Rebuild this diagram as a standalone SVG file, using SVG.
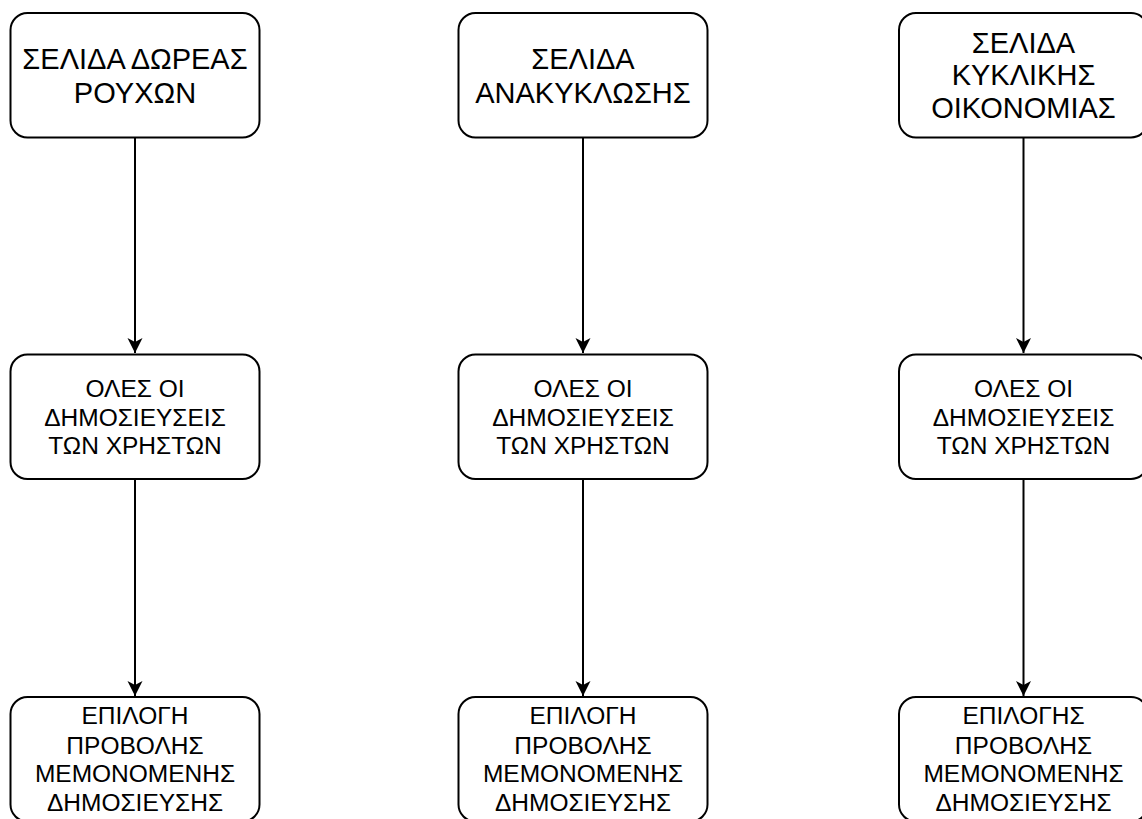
<svg xmlns="http://www.w3.org/2000/svg" width="1142" height="819" viewBox="0 0 1142 819">
<defs>
<style>
.box{fill:#fff;stroke:#000;stroke-width:2}
.t{font-family:"Liberation Sans",Arial,Helvetica,sans-serif;fill:#000;text-anchor:middle}
.big{font-size:29px}
.sm{font-size:24.5px}
.edge{stroke:#000;stroke-width:2;fill:none}
</style>
<marker id="arr" markerUnits="userSpaceOnUse" markerWidth="20" markerHeight="20" viewBox="-10 -18 20 20" refX="0" refY="0" orient="auto-start-reverse">
<path d="M0,0 L-15,-7.5 L-11,0 L-15,7.5 Z" fill="#000" transform="rotate(0)"/>
</marker>
<marker id="ah" markerUnits="userSpaceOnUse" markerWidth="20" markerHeight="20" viewBox="-18 -10 20 20" refX="0" refY="0" orient="auto">
<path d="M0,0 L-15,-7.5 L-11,0 L-15,7.5 Z" fill="#000"/>
</marker>
</defs>
<rect width="1142" height="819" fill="#fff"/>
<g id="connectors">
<path class="edge" d="M135,137.5 V353" marker-end="url(#ah)"/>
<path class="edge" d="M135,479 V696" marker-end="url(#ah)"/>
<path class="edge" d="M583,137.5 V353" marker-end="url(#ah)"/>
<path class="edge" d="M583,479 V696" marker-end="url(#ah)"/>
<path class="edge" d="M1023.5,137.5 V353" marker-end="url(#ah)"/>
<path class="edge" d="M1023.5,479 V696" marker-end="url(#ah)"/>
</g>
<g id="n1">
<rect class="box" x="10.5" y="13" width="249" height="124.5" rx="17" ry="17"/>
<text class="t big" x="135" y="68.5">ΣΕΛΙΔΑ ΔΩΡΕΑΣ</text>
<text class="t big" x="135" y="103">ΡΟΥΧΩΝ</text>
</g>
<g id="n2">
<rect class="box" x="458.5" y="13" width="249" height="124.5" rx="17" ry="17"/>
<text class="t big" x="583" y="69">ΣΕΛΙΔΑ</text>
<text class="t big" x="583" y="102.5">ΑΝΑΚΥΚΛΩΣΗΣ</text>
</g>
<g id="n3">
<rect class="box" x="899" y="13" width="249" height="124.5" rx="17" ry="17"/>
<text class="t big" x="1023.5" y="52.5">ΣΕΛΙΔΑ</text>
<text class="t big" x="1023.5" y="85">ΚΥΚΛΙΚΗΣ</text>
<text class="t big" x="1023.5" y="118">ΟΙΚΟΝΟΜΙΑΣ</text>
</g>
<g id="n4">
<rect class="box" x="10.5" y="354.5" width="249" height="124.5" rx="17" ry="17"/>
<text class="t sm" x="135" y="397">ΟΛΕΣ ΟΙ</text>
<text class="t sm" x="135" y="426">ΔΗΜΟΣΙΕΥΣΕΙΣ</text>
<text class="t sm" x="135" y="454">ΤΩΝ ΧΡΗΣΤΩΝ</text>
</g>
<g id="n5">
<rect class="box" x="458.5" y="354.5" width="249" height="124.5" rx="17" ry="17"/>
<text class="t sm" x="583" y="397">ΟΛΕΣ ΟΙ</text>
<text class="t sm" x="583" y="426">ΔΗΜΟΣΙΕΥΣΕΙΣ</text>
<text class="t sm" x="583" y="454">ΤΩΝ ΧΡΗΣΤΩΝ</text>
</g>
<g id="n6">
<rect class="box" x="899" y="354.5" width="249" height="124.5" rx="17" ry="17"/>
<text class="t sm" x="1023.5" y="397">ΟΛΕΣ ΟΙ</text>
<text class="t sm" x="1023.5" y="426">ΔΗΜΟΣΙΕΥΣΕΙΣ</text>
<text class="t sm" x="1023.5" y="454">ΤΩΝ ΧΡΗΣΤΩΝ</text>
</g>
<g id="n7">
<rect class="box" x="10.5" y="697" width="249" height="124.5" rx="17" ry="17"/>
<text class="t sm" x="135" y="724">ΕΠΙΛΟΓΗ</text>
<text class="t sm" x="135" y="754">ΠΡΟΒΟΛΗΣ</text>
<text class="t sm" x="135" y="782">ΜΕΜΟΝΟΜΕΝΗΣ</text>
<text class="t sm" x="135" y="810.5">ΔΗΜΟΣΙΕΥΣΗΣ</text>
</g>
<g id="n8">
<rect class="box" x="458.5" y="697" width="249" height="124.5" rx="17" ry="17"/>
<text class="t sm" x="583" y="724">ΕΠΙΛΟΓΗ</text>
<text class="t sm" x="583" y="754">ΠΡΟΒΟΛΗΣ</text>
<text class="t sm" x="583" y="782">ΜΕΜΟΝΟΜΕΝΗΣ</text>
<text class="t sm" x="583" y="810.5">ΔΗΜΟΣΙΕΥΣΗΣ</text>
</g>
<g id="n9">
<rect class="box" x="899" y="697" width="249" height="124.5" rx="17" ry="17"/>
<text class="t sm" x="1023.5" y="724">ΕΠΙΛΟΓΗΣ</text>
<text class="t sm" x="1023.5" y="754">ΠΡΟΒΟΛΗΣ</text>
<text class="t sm" x="1023.5" y="782">ΜΕΜΟΝΟΜΕΝΗΣ</text>
<text class="t sm" x="1023.5" y="810.5">ΔΗΜΟΣΙΕΥΣΗΣ</text>
</g>
</svg>
